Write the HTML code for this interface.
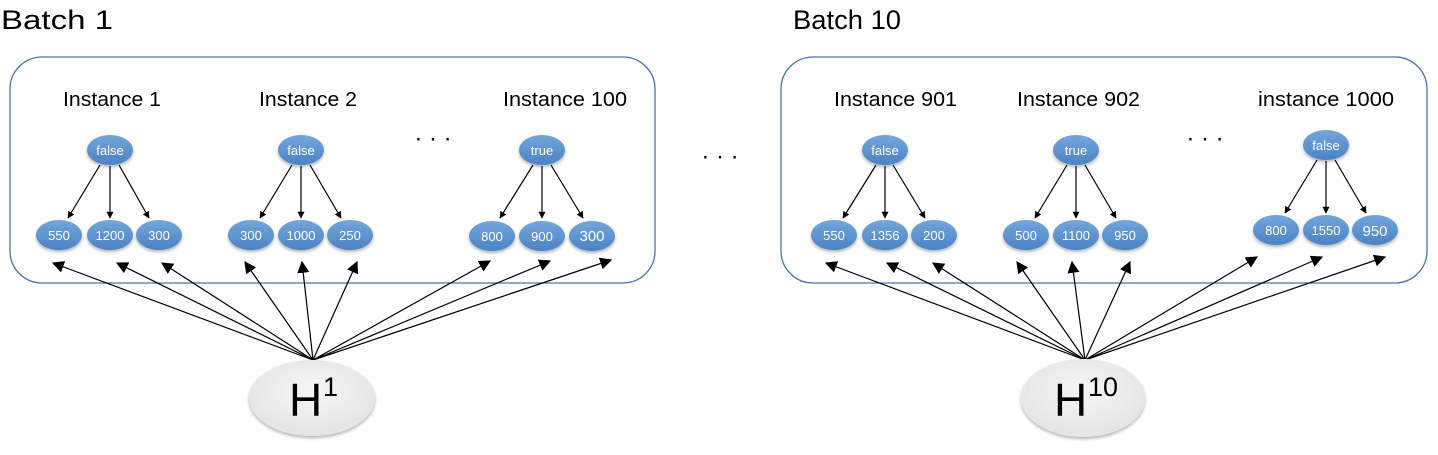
<!DOCTYPE html>
<html><head><meta charset="utf-8"><style>
html,body{margin:0;padding:0;background:#fff;}
svg text{font-family:"Liberation Sans",sans-serif;}
</style></head><body>
<svg width="1438" height="450" viewBox="0 0 1438 450" xmlns="http://www.w3.org/2000/svg">
<defs>
<linearGradient id="bg" x1="0" y1="0" x2="0" y2="1"><stop offset="0" stop-color="#74a6dc"/><stop offset="1" stop-color="#4a82c4"/></linearGradient>
<radialGradient id="hg" cx="0.5" cy="0.4" r="0.6"><stop offset="0" stop-color="#f6f6f6"/><stop offset="1" stop-color="#e4e4e4"/></radialGradient>
<marker id="a" viewBox="0 0 10 10" refX="9" refY="5" markerWidth="7" markerHeight="7" orient="auto" markerUnits="userSpaceOnUse"><path d="M0,0 L10,5 L0,10 z" fill="#000"/></marker>
<marker id="b" viewBox="0 0 10 10" refX="9" refY="5" markerWidth="12" markerHeight="12" orient="auto" markerUnits="userSpaceOnUse"><path d="M0,0 L10,5 L0,10 z" fill="#000"/></marker>
<filter id="sh" x="-20%" y="-20%" width="140%" height="160%"><feDropShadow dx="0" dy="2" stdDeviation="1.5" flood-color="#000" flood-opacity="0.3"/></filter>
</defs>
<text x="1" y="29" font-size="27" textLength="112" lengthAdjust="spacingAndGlyphs">Batch 1</text>
<text x="793" y="29" font-size="27" textLength="108" lengthAdjust="spacingAndGlyphs">Batch 10</text>
<rect x="10" y="57" width="645" height="226" rx="32" fill="none" stroke="#4a74a8" stroke-width="1.3"/>
<rect x="781" y="57" width="646" height="226" rx="32" fill="none" stroke="#4a74a8" stroke-width="1.3"/>
<g font-size="20" lengthAdjust="spacingAndGlyphs">
<text x="63" y="106" textLength="98" lengthAdjust="spacingAndGlyphs">Instance 1</text>
<text x="259" y="106" textLength="98" lengthAdjust="spacingAndGlyphs">Instance 2</text>
<text x="503" y="106" textLength="124" lengthAdjust="spacingAndGlyphs">Instance 100</text>
<text x="834" y="106" textLength="123" lengthAdjust="spacingAndGlyphs">Instance 901</text>
<text x="1017" y="106" textLength="123" lengthAdjust="spacingAndGlyphs">Instance 902</text>
<text x="1258" y="106" textLength="136" lengthAdjust="spacingAndGlyphs">instance 1000</text>
</g>
<g font-size="24" text-anchor="middle">
<text x="433" y="146">· · ·</text>
<text x="720" y="164">· · ·</text>
<text x="1205" y="146">· · ·</text>
</g>
<g stroke="#000" stroke-width="1.2" marker-end="url(#a)">
<path d="M100,165 L68,218"/><path d="M110,166 L110,218"/><path d="M119,165 L149,218"/>
<path d="M292,165 L260,218"/><path d="M301,166 L301,218"/><path d="M310,165 L341,218"/>
<path d="M533,165 L500,218"/><path d="M542,166 L542,218"/><path d="M551,165 L583,218"/>
<path d="M876,165 L843,218"/><path d="M885,166 L885,218"/><path d="M893,165 L925,218"/>
<path d="M1067,165 L1035,218"/><path d="M1076,166 L1076,218"/><path d="M1085,165 L1116,218"/>
<path d="M1317,160 L1285,213"/><path d="M1326,161 L1326,213"/><path d="M1335,160 L1366,213"/>
</g>
<g stroke="#000" stroke-width="1.2" marker-end="url(#b)" fill="none">
<path d="M313,360 L53,263"/><path d="M313,360 L117,263"/><path d="M313,360 L162,263"/>
<path d="M313,360 L245,262"/><path d="M313,360 L302,262"/><path d="M313,360 L357,262"/>
<path d="M313,360 L490,261"/><path d="M313,360 L550,261"/><path d="M313,360 L611,260"/>
<path d="M1085,360 L826,263"/><path d="M1085,360 L887,263"/><path d="M1085,360 L933,263"/>
<path d="M1085,360 L1017,262"/><path d="M1085,360 L1072,262"/><path d="M1085,360 L1130,262"/>
<path d="M1085,360 L1257,257"/><path d="M1085,360 L1322,257"/><path d="M1085,360 L1385,257"/>
</g>
<g fill="url(#bg)" filter="url(#sh)">
<ellipse cx="110" cy="150" rx="23" ry="15"/><ellipse cx="59" cy="235" rx="23" ry="15"/><ellipse cx="110" cy="235" rx="23" ry="15"/><ellipse cx="159" cy="235" rx="23" ry="15"/>
<ellipse cx="301" cy="150" rx="23" ry="15"/><ellipse cx="251" cy="235" rx="23" ry="15"/><ellipse cx="301" cy="235" rx="23" ry="15"/><ellipse cx="350" cy="235" rx="23" ry="15"/>
<ellipse cx="542" cy="150" rx="23" ry="15"/><ellipse cx="492" cy="236" rx="23" ry="15"/><ellipse cx="542" cy="236" rx="23" ry="15"/><ellipse cx="592" cy="236" rx="23" ry="15"/>
<ellipse cx="885" cy="150" rx="23" ry="15"/><ellipse cx="834" cy="235" rx="23" ry="15"/><ellipse cx="885" cy="235" rx="23" ry="15"/><ellipse cx="934" cy="235" rx="23" ry="15"/>
<ellipse cx="1076" cy="150" rx="23" ry="15"/><ellipse cx="1026" cy="235" rx="23" ry="15"/><ellipse cx="1076" cy="235" rx="23" ry="15"/><ellipse cx="1125" cy="235" rx="23" ry="15"/>
<ellipse cx="1326" cy="145" rx="23" ry="15"/><ellipse cx="1276" cy="230" rx="23" ry="15"/><ellipse cx="1326" cy="230" rx="23" ry="15"/><ellipse cx="1375" cy="230" rx="23" ry="15"/>
</g>
<g fill="#fff" font-size="13" text-anchor="middle">
<text x="110" y="155">false</text><text x="59" y="240">550</text><text x="110" y="240">1200</text><text x="159" y="240">300</text>
<text x="301" y="155">false</text><text x="251" y="240">300</text><text x="301" y="240">1000</text><text x="350" y="240">250</text>
<text x="542" y="155">true</text><text x="492" y="241">800</text><text x="542" y="241">900</text><text x="592" y="241" font-size="15">300</text>
<text x="885" y="155">false</text><text x="834" y="240">550</text><text x="885" y="240">1356</text><text x="934" y="240">200</text>
<text x="1076" y="155">true</text><text x="1026" y="240">500</text><text x="1076" y="240">1100</text><text x="1125" y="240">950</text>
<text x="1326" y="150">false</text><text x="1276" y="235">800</text><text x="1326" y="235">1550</text><text x="1375" y="236" font-size="15">950</text>
</g>
<g filter="url(#sh)" fill="url(#hg)">
<ellipse cx="312" cy="398" rx="63" ry="38"/>
<ellipse cx="1083" cy="398" rx="62" ry="39"/>
</g>
<text x="289" y="416" font-size="46">H</text><text x="323" y="396" font-size="27">1</text>
<text x="1054" y="416" font-size="46">H</text><text x="1088" y="396" font-size="27">10</text>
</svg>
</body></html>
